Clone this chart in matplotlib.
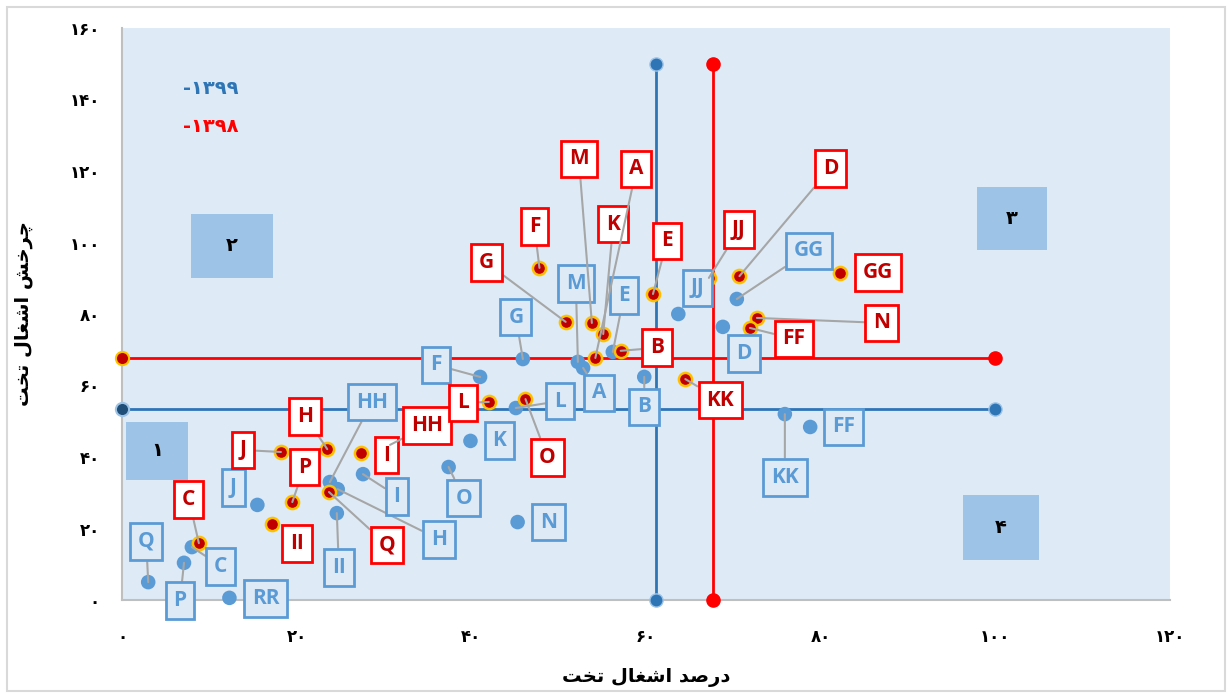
import matplotlib
matplotlib.use("Agg")
import matplotlib.pyplot as plt
from matplotlib.patches import Rectangle

# ---------- data ----------
names_1399 = ["Q", "P", "C", "J", "RR", "II", "H", "HH", "I", "O", "K", "N",
              "L", "F", "G", "M", "A", "E", "B", "JJ", "D", "GG", "KK", "FF"]
x_1399 = [3.0, 7.1, 8.0, 15.5, 12.3, 24.6, 24.7, 23.8, 27.6, 37.4, 39.9, 45.3,
          45.1, 41.0, 45.9, 52.2, 52.8, 56.2, 59.8, 63.7, 68.8, 70.4, 75.9, 78.8]
y_1399 = [5.0, 10.4, 14.8, 26.6, 0.6, 24.3, 31.0, 33.0, 35.2, 37.2, 44.5, 21.8,
          53.7, 62.4, 67.4, 66.6, 64.9, 69.4, 62.4, 80.0, 76.4, 84.2, 52.0, 48.4]

names_1398 = ["C", "II", "P", "J", "H", "Q", "I", "HH", "L", "O", "F", "G",
              "M", "K", "A", "B", "E", "KK", "JJ", "D", "GG", "N", "FF"]
x_1398 = [8.8, 17.2, 19.5, 18.2, 23.5, 23.7, 27.4, 30.7, 42.0, 46.2, 47.8, 50.8,
          53.8, 55.1, 54.2, 57.1, 60.8, 64.5, 67.2, 70.7, 82.2, 72.7, 71.9]
y_1398 = [15.9, 21.3, 27.4, 41.4, 42.2, 30.2, 41.1, 43.4, 55.4, 56.2, 92.9, 77.8,
          77.5, 74.4, 67.7, 69.7, 85.6, 61.8, 90.1, 90.6, 91.5, 78.9, 76.1]

# averages (reference lines)
avg_x_1399, avg_y_1399 = 61.1, 53.4
avg_x_1398, avg_y_1398 = 67.7, 67.7

# ---------- label layout (pixel offsets of the callouts) ----------
offs_1399 = {"Q": (-2, 41), "P": (-4, -38), "C": (29, -19), "J": (-24, 17),
             "RR": (36, -1), "II": (2, -54), "H": (101, -50), "HH": (42, 80),
             "I": (34, -22), "O": (15, -31), "K": (29, 0), "N": (31, 0),
             "L": (44, 7), "F": (-44, 12), "G": (-7, 42), "M": (-2, 78),
             "A": (16, -25), "E": (11, 56), "B": (0, -30), "JJ": (19, 26),
             "D": (21, -27), "GG": (72, 48), "KK": (0, -63), "FF": (33, 0)}
offs_1398 = {"C": (-10, 44), "II": (25, -20), "P": (12, 35), "J": (-38, 2),
             "H": (-22, 33), "Q": (58, -53), "I": (25, -2), "HH": (37, 19),
             "L": (-26, -1), "O": (22, -58), "F": (-5, 41), "G": (-79, 59),
             "M": (-13, 164), "K": (10, 110), "A": (41, 189), "B": (36, 3),
             "E": (14, 53), "KK": (35, -21), "JJ": (30, 48), "D": (91, 108),
             "GG": (38, 0), "N": (125, -5), "FF": (44, -11)}
no_leader_1399 = {"J", "RR", "K", "N", "JJ", "D", "FF"}
no_leader_1398 = {"II", "I", "GG"}

BLUE = "#5B9BD5"
DBLUE = "#2E75B6"
RED = "#FF0000"
DRED = "#C00000"
BG = "#DEEBF7"
GREY = "#A6A6A6"

FA_DIGITS = str.maketrans("0123456789", "۰۱۲۳۴۵۶۷۸۹")


def fa(n):
    return str(n).translate(FA_DIGITS)


# Persian text in presentation forms, visual (left-to-right) order
XLABEL = "ﺖﺨﺗ ﻝﺎﻐﺷﺍ ﺪﺻﺭﺩ"      # درصد اشغال تخت
YLABEL = "ﺖﺨﺗ ﻝﺎﻐﺷﺍ ﺶﺧﺮﭼ"      # چرخش اشغال تخت

fig = plt.figure(figsize=(12.32, 6.98), dpi=100)
ax = fig.add_axes([122 / 1232, 98 / 698, 1048 / 1232, 572 / 698])
ax.set_facecolor(BG)
ax.set_xlim(0, 120)
ax.set_ylim(0, 160)

for s in ["top", "right"]:
    ax.spines[s].set_visible(False)
for s in ["left", "bottom"]:
    ax.spines[s].set_color("#BFBFBF")
    ax.spines[s].set_linewidth(1.5)

ax.set_xticks(range(0, 121, 20))
ax.set_xticklabels([fa(v) for v in range(0, 121, 20)])
ax.set_yticks(range(0, 161, 20))
ax.set_yticklabels([fa(v) for v in range(0, 161, 20)])
ax.tick_params(length=0, labelsize=12)
ax.tick_params(axis="x", pad=20)
ax.tick_params(axis="y", pad=16)
for t in ax.get_xticklabels() + ax.get_yticklabels():
    t.set_fontweight("bold")
    t.set_family("DejaVu Sans")

ax.set_xlabel(XLABEL, fontsize=14, fontweight="bold", labelpad=16)
ax.set_ylabel(YLABEL, fontsize=14, fontweight="bold", labelpad=26)

# quadrant boxes
quads = [("۱", 0.5, 33.6, 7.1, 16.2), ("۲", 7.9, 90.1, 9.4, 17.9),
         ("۳", 97.9, 97.9, 8.0, 17.6), ("۴", 96.3, 11.2, 8.7, 18.2)]
for q, qx, qy, qw, qh in quads:
    ax.add_patch(Rectangle((qx, qy), qw, qh, facecolor="#9DC3E6", edgecolor="none",
                           zorder=1, clip_on=False))
    ax.text(qx + qw / 2, qy + qh / 2, q, ha="center", va="center", fontsize=14,
            fontweight="bold", color="black", zorder=2)

# reference lines
ax.plot([avg_x_1399, avg_x_1399], [0, 150], color=DBLUE, lw=2, zorder=2)
ax.plot([0, 100], [avg_y_1399, avg_y_1399], color=DBLUE, lw=2, zorder=2)
ax.plot([avg_x_1398, avg_x_1398], [0, 150], color=RED, lw=2, zorder=2)
ax.plot([0, 100], [avg_y_1398, avg_y_1398], color=RED, lw=2, zorder=2)

ax.scatter([avg_x_1399, avg_x_1399, 100], [0, 150, avg_y_1399], s=90, color=DBLUE,
           edgecolor="#9DC3E6", linewidth=1, zorder=5, clip_on=False)
ax.scatter([0], [avg_y_1399], s=90, color="#1F4E79", edgecolor="#9DC3E6",
           linewidth=1.5, zorder=5, clip_on=False)
ax.scatter([avg_x_1398, avg_x_1398, 100], [0, 150, avg_y_1398], s=90, color=RED,
           edgecolor=RED, linewidth=1, zorder=5, clip_on=False)
ax.scatter([0], [avg_y_1398], s=90, color=DRED, edgecolor="#FFC000",
           linewidth=1.5, zorder=5, clip_on=False)

# points
ax.scatter(x_1399, y_1399, s=110, color=BLUE, edgecolor="none", zorder=3, clip_on=False)
ax.scatter(x_1398, y_1398, s=90, color=DRED, edgecolor="#FFC000", linewidth=1.8,
           zorder=3.5, clip_on=False)

# callout labels
for name, x, y in zip(names_1399, x_1399, y_1399):
    arrow = None
    if name not in no_leader_1399:
        arrow = dict(arrowstyle="-", color=GREY, lw=1.5, shrinkA=0, shrinkB=0)
    ax.annotate(name, xy=(x, y), xytext=offs_1399[name], textcoords="offset pixels",
                ha="center", va="center", fontsize=15, fontweight="bold",
                family="Open Sans", color=BLUE, zorder=6, arrowprops=arrow,
                bbox=dict(boxstyle="square,pad=0.38", fc=BG, ec=BLUE, lw=2))

for name, x, y in zip(names_1398, x_1398, y_1398):
    arrow = None
    if name not in no_leader_1398:
        arrow = dict(arrowstyle="-", color=GREY, lw=1.5, shrinkA=0, shrinkB=0)
    ax.annotate(name, xy=(x, y), xytext=offs_1398[name], textcoords="offset pixels",
                ha="center", va="center", fontsize=15, fontweight="bold",
                family="Open Sans", color=DRED, zorder=7, arrowprops=arrow,
                bbox=dict(boxstyle="square,pad=0.38", fc="white", ec=RED, lw=2))

# legend-like year texts
ax.text(7, 141.5, "-۱۳۹۹", color=DBLUE, fontsize=14, fontweight="bold", zorder=6)
ax.text(7, 131, "-۱۳۹۸", color=RED, fontsize=14, fontweight="bold", zorder=6)

# chart border
fig.patches.append(Rectangle((7 / 1232, 7 / 698), 1218 / 1232, 684 / 698,
                             transform=fig.transFigure, fill=False,
                             edgecolor="#D9D9D9", lw=1.5))

fig.savefig("out.png", dpi=100)
